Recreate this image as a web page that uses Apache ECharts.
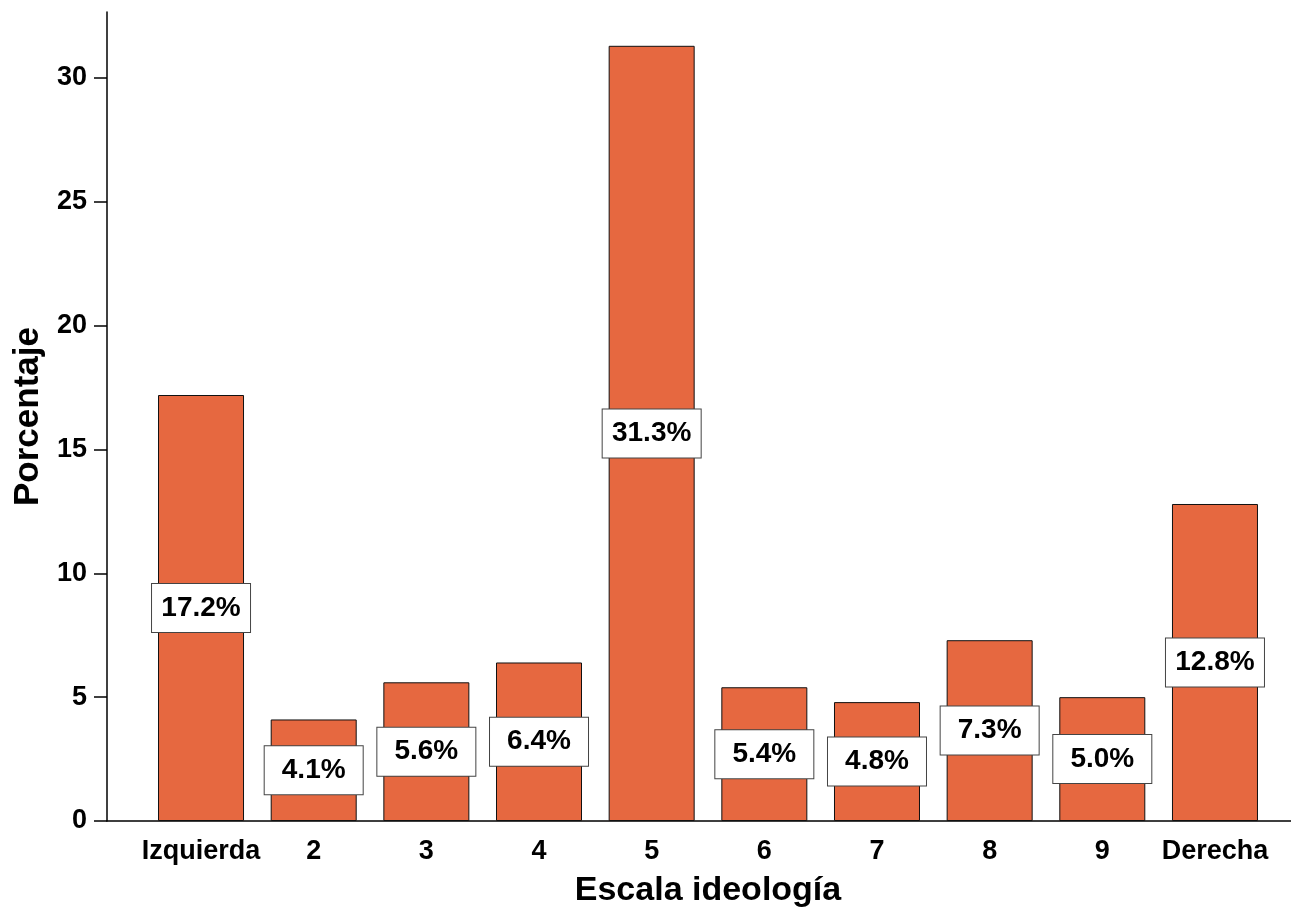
<!DOCTYPE html>
<html>
<head>
<meta charset="utf-8">
<script src="https://cdn.jsdelivr.net/npm/echarts@6/dist/echarts.min.js"></script>
<style>
html,body{margin:0;padding:0;background:#fff;}
#c{width:1291px;height:908px;}
</style>
</head>
<body>
<div id="c"></div>
<script>
const categories = ['Izquierda','2','3','4','5','6','7','8','9','Derecha'];
const values = [17.2, 4.1, 5.6, 6.4, 31.3, 5.4, 4.8, 7.3, 5.0, 12.8];
const xTitle = 'Escala ideología';
const yTitle = 'Porcentaje';
const yMax = 32.665;

const FONT = '"Liberation Sans", Arial, sans-serif';
const chart = echarts.init(document.getElementById('c'), null, {renderer:'canvas'});
chart.setOption({
  animation:false,
  backgroundColor:'#fff',
  grid:[
    {left:144.7, right:19.7, top:12, bottom:87, containLabel:false, outerBoundsMode:'none'},
    {left:107, right:0, top:12, bottom:87, containLabel:false, outerBoundsMode:'none'}
  ],
  xAxis:[
    {type:'category', gridIndex:0, data:categories,
     axisLine:{show:false}, axisTick:{show:false},
     axisLabel:{interval:0, color:'#000', fontFamily:FONT, fontWeight:'bold', fontSize:27, margin:17},
     name:xTitle, nameLocation:'middle', nameGap:53,
     nameTextStyle:{color:'#000', fontFamily:FONT, fontWeight:'bold', fontSize:34}},
    {type:'value', gridIndex:1, min:0, max:1,
     axisLine:{show:true, lineStyle:{color:'#000', width:1.5}},
     axisTick:{show:false}, axisLabel:{show:false}, splitLine:{show:false}}
  ],
  yAxis:[
    {type:'value', gridIndex:0, min:0, max:yMax, show:false, splitLine:{show:false}},
    {type:'value', gridIndex:1, min:0, max:yMax, interval:5,
     axisLine:{show:true, lineStyle:{color:'#000', width:1.5}},
     axisTick:{show:true, length:13, lineStyle:{color:'#000', width:1.5}},
     axisLabel:{color:'#000', fontFamily:FONT, fontWeight:'bold', fontSize:27, margin:20,
       showMaxLabel:false},
     splitLine:{show:false},
     name:yTitle, nameLocation:'middle', nameGap:58,
     nameTextStyle:{color:'#000', fontFamily:FONT, fontWeight:'bold', fontSize:35}}
  ],
  series:[{
    type:'bar', xAxisIndex:0, yAxisIndex:0, data:values, barWidth:86,
    itemStyle:{color:'#E66840', borderColor:'#111', borderWidth:1},
    label:{show:true, position:'inside',
      formatter:p=>p.value.toFixed(1)+'%',
      color:'#000', fontFamily:FONT, fontWeight:'bold', fontSize:28,
      backgroundColor:'#fff', borderColor:'#444', borderWidth:1,
      width:98, height:48, lineHeight:48, align:'center', verticalAlign:'middle', padding:0}
  }]
});
</script>
</body>
</html>
